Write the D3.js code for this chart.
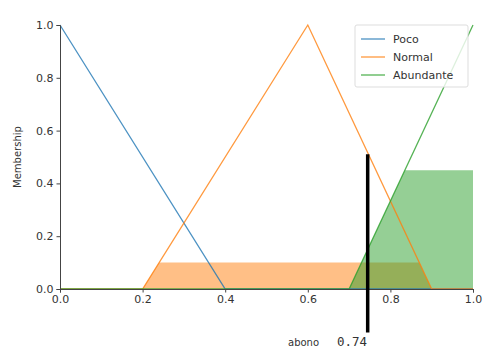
<!DOCTYPE html>
<html>
<head>
<meta charset="utf-8">
<script src="https://cdn.jsdelivr.net/npm/d3@7"></script>
<style>
  body { margin: 0; background: #fff; }
  text { font-family: "DejaVu Sans", sans-serif; }
</style>
</head>
<body>
<div id="chart"></div>
<script>
"use strict";
// membership functions (universe breakpoints + degrees)
const pocoX = [0, 0.4, 1.0];
const pocoY = [1, 0, 0];
const normalX = [0, 0.2, 0.6, 0.9, 1.0];
const normalY = [0, 0, 1, 0, 0];
const abundanteX = [0, 0.7, 1.0];
const abundanteY = [0, 0, 1];

// activated (clipped) regions
const normalFillX = [0.2, 0.24, 0.87, 0.9];
const normalFillY = [0, 0.1, 0.1, 0];
const abundanteFillX = [0.7, 0.835, 1.0, 1.0];
const abundanteFillY = [0, 0.45, 0.45, 0];

const crispValue = 0.745;
const crispLine = [-0.165, 0.51];
const crispLabel = "0.74";
const outName = "abono";

const ticks = [0, 0.2, 0.4, 0.6, 0.8, 1.0];
const seriesNames = ["Poco", "Normal", "Abundante"];
const colors = ["#1f77b4", "#ff7f0e", "#2ca02c"];

const measurements = { width: 490, height: 361, left: 60, right: 473, top: 25, bottom: 289 };

const svg = d3.select("#chart").append("svg")
    .attr("width", measurements.width)
    .attr("height", measurements.height);

const x = d3.scaleLinear().domain([0, 1]).range([measurements.left, measurements.right]);
const y = d3.scaleLinear().domain([0, 1]).range([measurements.bottom, measurements.top]);

const zip = (xs, ys) => xs.map((v, i) => [v, ys[i]]);
const line = d3.line().x(d => x(d[0])).y(d => y(d[1]));

// fills
svg.append("path")
    .attr("d", line(zip(normalFillX, normalFillY)) + "Z")
    .attr("fill", colors[1]).attr("fill-opacity", 0.5);
svg.append("path")
    .attr("d", line(zip(abundanteFillX, abundanteFillY)) + "Z")
    .attr("fill", colors[2]).attr("fill-opacity", 0.5);

// curves
const curves = [zip(pocoX, pocoY), zip(normalX, normalY), zip(abundanteX, abundanteY)];
curves.forEach((c, i) => {
    svg.append("path")
        .attr("d", line(c))
        .attr("fill", "none")
        .attr("stroke", colors[i])
        .attr("stroke-opacity", 0.8)
        .attr("stroke-width", 1.3);
});

// axes
const xAxis = d3.axisBottom(x).tickValues(ticks).tickFormat(d3.format(".1f")).tickSize(3.5).tickPadding(3);
const yAxis = d3.axisLeft(y).tickValues(ticks).tickFormat(d3.format(".1f")).tickSize(3.5).tickPadding(3);

const gx = svg.append("g").attr("transform", `translate(0,${measurements.bottom})`).call(xAxis);
const gy = svg.append("g").attr("transform", `translate(${measurements.left},0)`).call(yAxis);
[gx, gy].forEach(g => {
    g.select(".domain").attr("stroke", "#444").attr("stroke-width", 1);
    g.selectAll(".tick line").attr("stroke", "#444");
    g.selectAll(".tick text").attr("fill", "#333").style("font-size", "11px");
});

svg.append("text")
    .attr("transform", "rotate(-90)")
    .attr("x", -(measurements.top + measurements.bottom) / 2)
    .attr("y", 21)
    .style("text-anchor", "middle")
    .style("font-size", "10px")
    .attr("fill", "#333")
    .text("Membership");

// crisp output line
svg.append("line")
    .attr("x1", x(crispValue)).attr("x2", x(crispValue))
    .attr("y1", y(crispLine[0])).attr("y2", y(crispLine[1]))
    .attr("stroke", "#000").attr("stroke-width", 3.5);

svg.append("text")
    .attr("x", 288).attr("y", 346)
    .style("font-size", "10px").attr("fill", "#333")
    .text(outName);
svg.append("text")
    .attr("x", 337).attr("y", 346)
    .style("font-family", "'DejaVu Sans Mono', monospace")
    .style("font-size", "12.5px").attr("fill", "#333")
    .text(crispLabel);

// legend
const legend = svg.append("g").attr("transform", "translate(355,25)");
legend.append("rect")
    .attr("width", 113).attr("height", 62)
    .attr("fill", "#fff").attr("fill-opacity", 0.8)
    .attr("stroke", "#ddd").attr("rx", 2);
seriesNames.forEach((name, i) => {
    const row = legend.append("g").attr("transform", `translate(0,${14 + i * 18})`);
    row.append("line")
        .attr("x1", 6).attr("x2", 30)
        .attr("stroke", colors[i]).attr("stroke-opacity", 0.8).attr("stroke-width", 1.3);
    row.append("text")
        .attr("x", 38).attr("dy", "0.35em")
        .style("font-size", "11px").attr("fill", "#333")
        .text(name);
});
</script>
</body>
</html>
